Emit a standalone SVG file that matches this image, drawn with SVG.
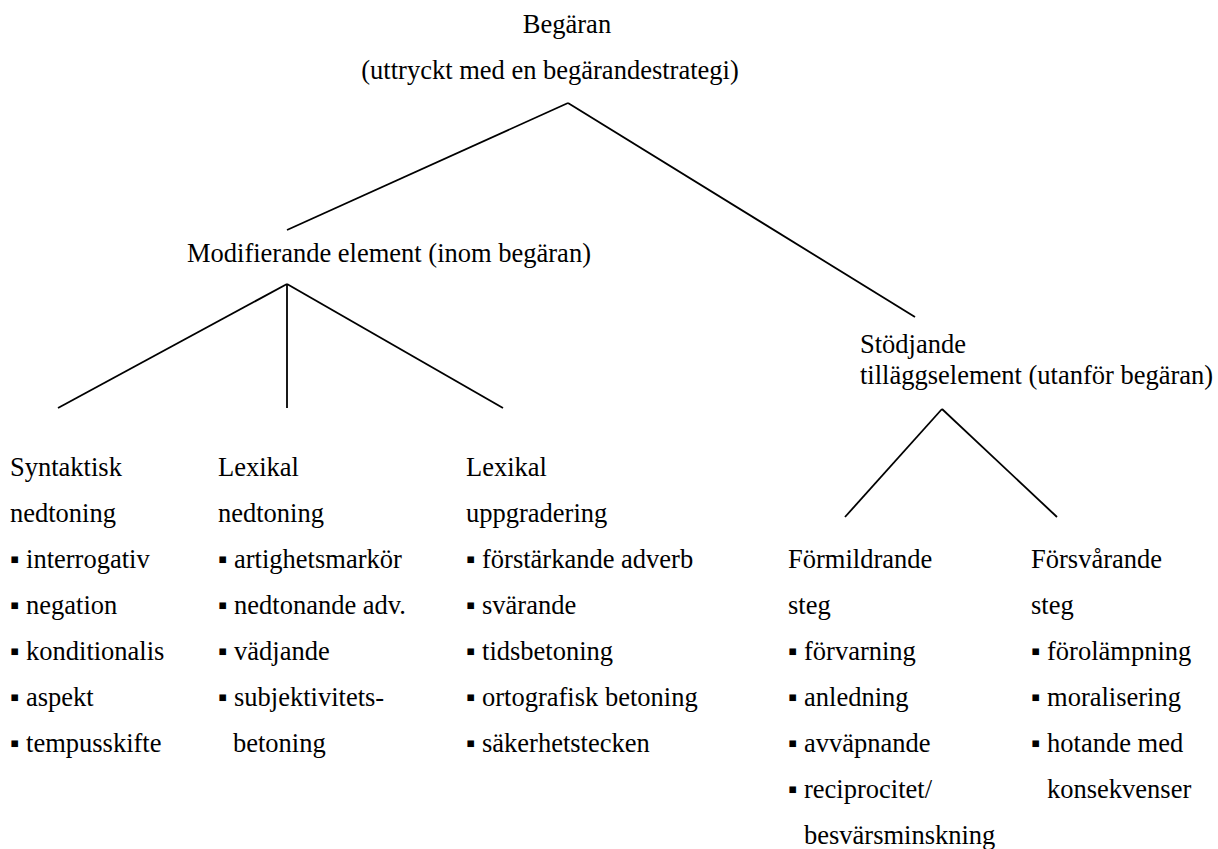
<svg xmlns="http://www.w3.org/2000/svg" width="1218" height="849" viewBox="0 0 1218 849">
<style>
text{font-family:"Liberation Serif","Times New Roman",serif;font-size:26.5px;fill:#000}
.c{text-anchor:middle}
line{stroke:#000;stroke-width:1.8}
</style>
<rect width="1218" height="849" fill="#fff"/>
<g id="connectors">
<line x1="568" y1="103" x2="287" y2="230"/>
<line x1="568" y1="103" x2="915" y2="317"/>
<line x1="287" y1="284" x2="58" y2="408"/>
<line x1="287" y1="284" x2="287" y2="408"/>
<line x1="287" y1="284" x2="503" y2="408"/>
<line x1="942" y1="409" x2="845" y2="517"/>
<line x1="942" y1="409" x2="1057" y2="517"/>
</g>
<g id="root">
<text class="c" x="567" y="33">Begäran</text>
<text class="c" x="550" y="79">(uttryckt med en begärandestrategi)</text>
</g>
<g id="modifierande">
<text x="187" y="262">Modifierande element (inom begäran)</text>
</g>
<g id="stodjande">
<text x="860" y="353">Stödjande</text>
<text x="860" y="384">tilläggselement (utanför begäran)</text>
</g>
<g id="syntaktisk">
<text x="10" y="476">Syntaktisk</text>
<text x="10" y="522">nedtoning</text>
<text x="10" y="568">▪ interrogativ</text>
<text x="10" y="614">▪ negation</text>
<text x="10" y="660">▪ konditionalis</text>
<text x="10" y="706">▪ aspekt</text>
<text x="10" y="752">▪ tempusskifte</text>
</g>
<g id="lexikal-nedtoning">
<text x="218" y="476">Lexikal</text>
<text x="218" y="522">nedtoning</text>
<text x="218" y="568">▪ artighetsmarkör</text>
<text x="218" y="614">▪ nedtonande adv.</text>
<text x="218" y="660">▪ vädjande</text>
<text x="218" y="706">▪ subjektivitets-</text>
<text x="233" y="752">betoning</text>
</g>
<g id="lexikal-uppgradering">
<text x="466" y="476">Lexikal</text>
<text x="466" y="522">uppgradering</text>
<text x="466" y="568">▪ förstärkande adverb</text>
<text x="466" y="614">▪ svärande</text>
<text x="466" y="660">▪ tidsbetoning</text>
<text x="466" y="706">▪ ortografisk betoning</text>
<text x="466" y="752">▪ säkerhetstecken</text>
</g>
<g id="formildrande">
<text x="788" y="568">Förmildrande</text>
<text x="788" y="614">steg</text>
<text x="788" y="660">▪ förvarning</text>
<text x="788" y="706">▪ anledning</text>
<text x="788" y="752">▪ avväpnande</text>
<text x="788" y="798">▪ reciprocitet/</text>
<text x="804" y="844">besvärsminskning</text>
</g>
<g id="forsvarande">
<text x="1031" y="568">Försvårande</text>
<text x="1031" y="614">steg</text>
<text x="1031" y="660">▪ förolämpning</text>
<text x="1031" y="706">▪ moralisering</text>
<text x="1031" y="752">▪ hotande med</text>
<text x="1047" y="798">konsekvenser</text>
</g>
</svg>
